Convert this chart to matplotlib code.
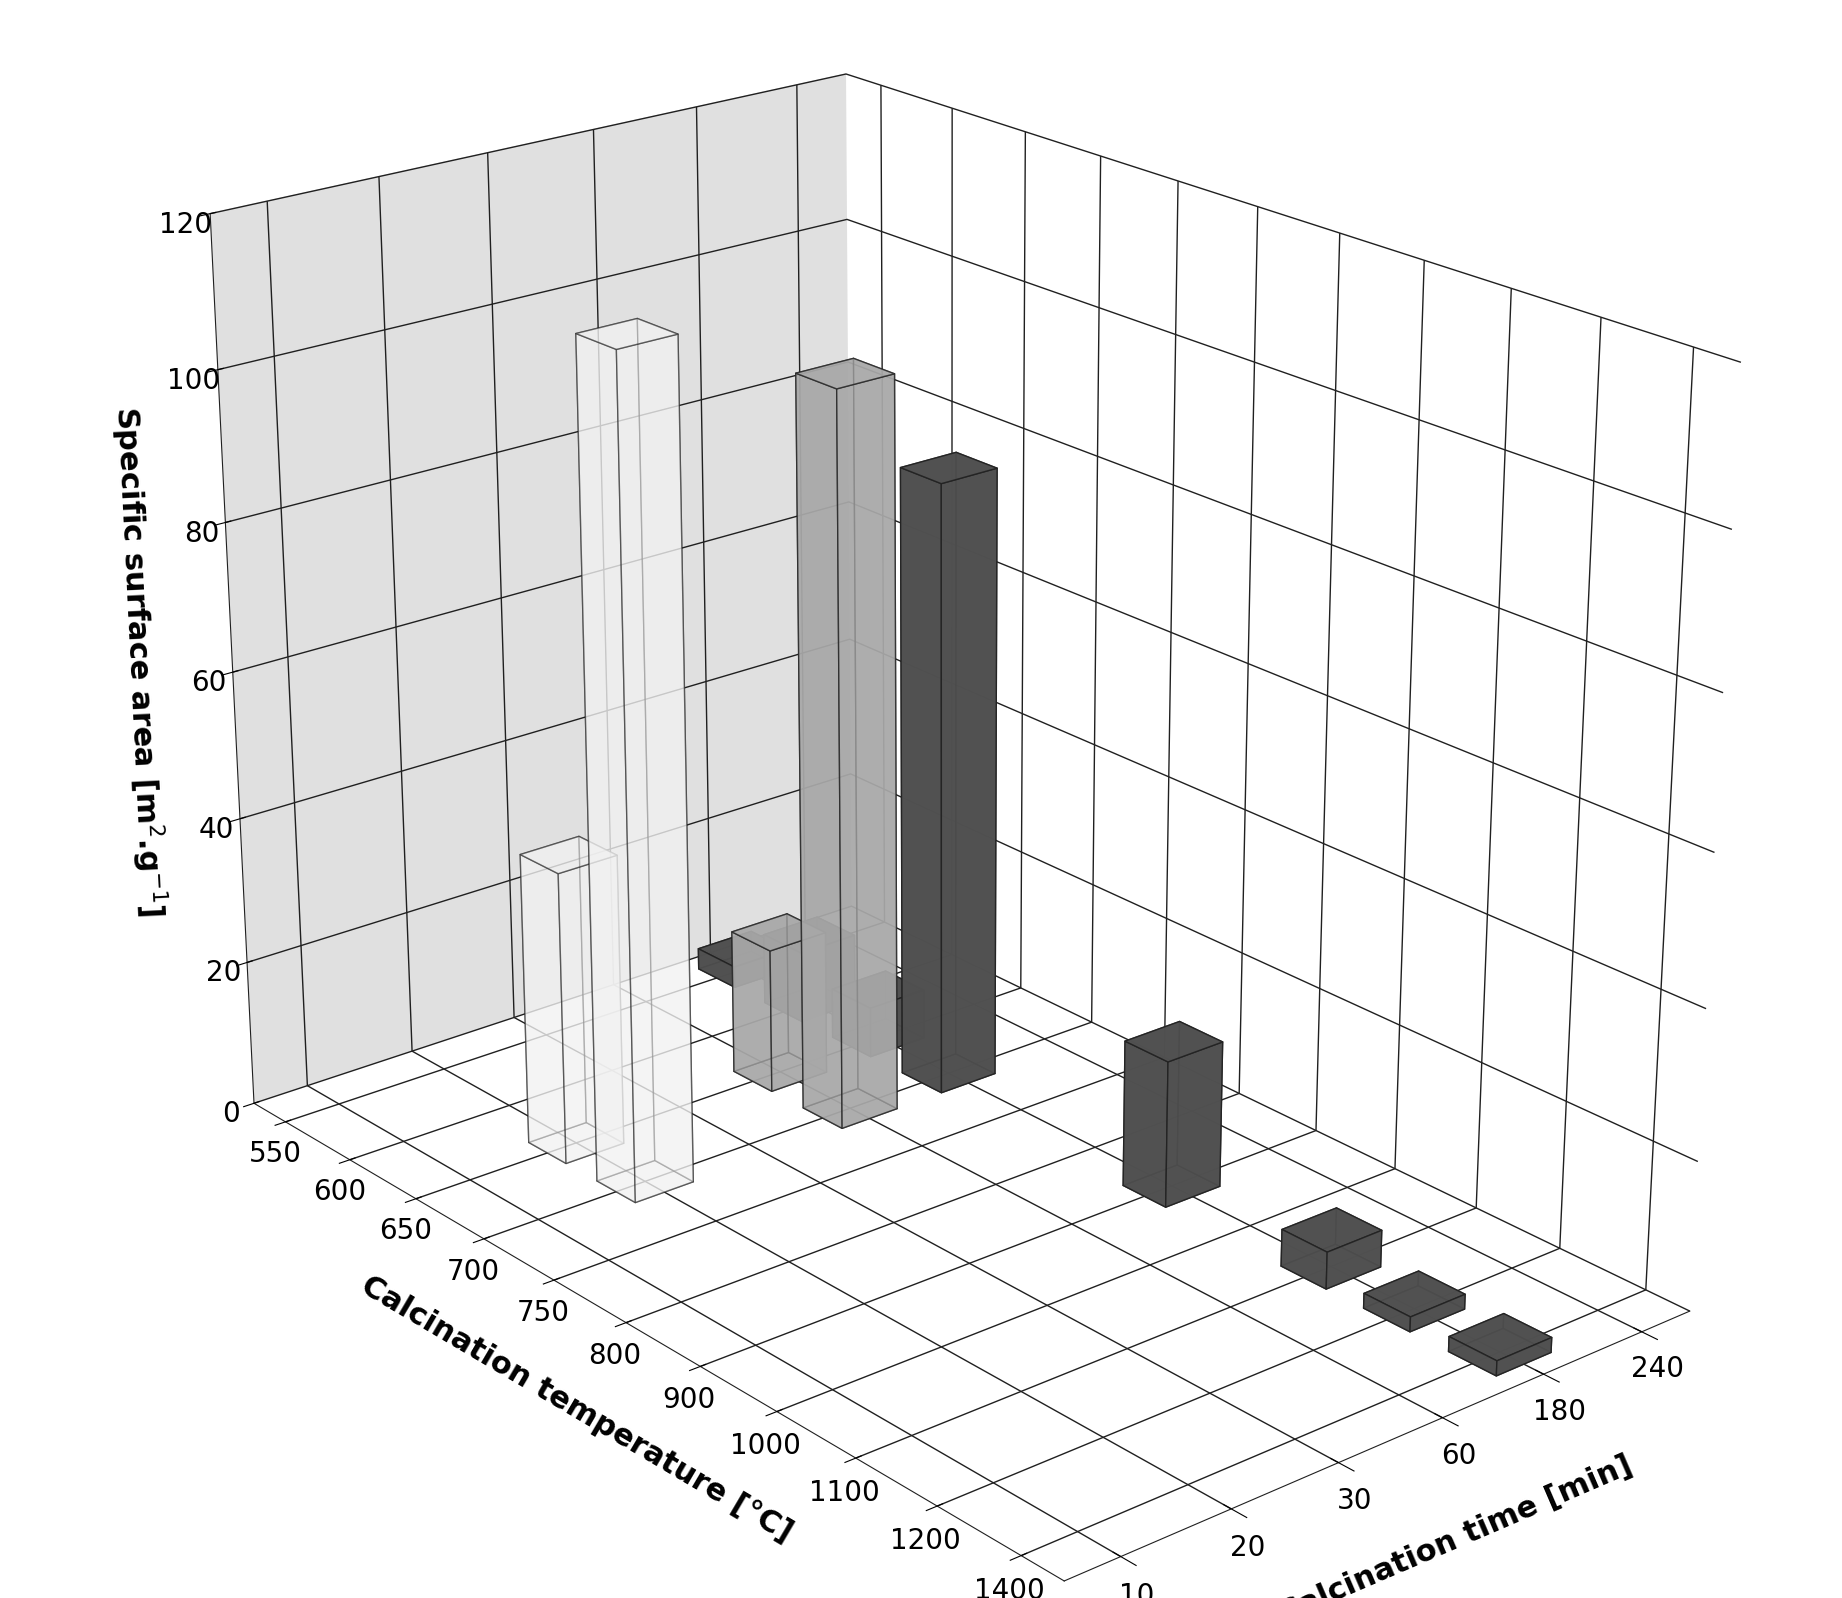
import matplotlib
matplotlib.use('Agg')
import matplotlib.pyplot as plt
import numpy as np

temps = ['550', '600', '650', '700', '750', '800', '900', '1000', '1100', '1200', '1400']
times = ['10', '20', '30', '60', '180', '240']

# (temperature label, time label, surface area, colour)
bar_temp = ['550', '600', '650', '700', '900', '1100', '1200', '1400',
            '650', '700', '650', '700']
bar_time = ['180', '180', '180', '180', '180', '180', '180', '180',
            '60', '60', '20', '20']
bar_val = [3, 10, 7, 84, 20, 5, 2, 2, 20, 100, 40, 112]
bar_col = ['#505050'] * 8 + ['#a8a8a8', '#a8a8a8', '#f2f2f2', '#f2f2f2']
bar_alpha = [0.9] * 8 + [0.75, 0.75, 0.55, 0.55]

fig = plt.figure(figsize=(18.42, 15.98), dpi=100)
ax = fig.add_axes([-0.04, -0.05, 1.08, 1.12], projection='3d')
ax.set_proj_type('persp', focal_length=0.6)

w = 0.55
order = np.argsort([-times.index(t) for t in bar_time])
for i in order:
    xi = temps.index(bar_temp[i])
    yi = times.index(bar_time[i])
    ax.bar3d(xi - w / 2 + 0.5, yi - w / 2 + 0.5, 0, w, w, bar_val[i],
             color=bar_col[i], alpha=bar_alpha[i], edgecolor='#222222',
             linewidth=1, shade=False)

ax.set_xlim(0, len(temps))
ax.set_ylim(0, len(times))
ax.set_zlim(0, 120)
ax.set_xticks(np.arange(len(temps)) + 0.5)
ax.set_xticklabels(temps, fontsize=20)
ax.set_yticks(np.arange(len(times)) + 0.5)
ax.set_yticklabels(times, fontsize=20)
ax.set_zticks(np.arange(0, 121, 20))
ax.set_zticklabels([str(v) for v in range(0, 121, 20)], fontsize=20)

ax.xaxis.set_pane_color((0.88, 0.88, 0.88, 1))
ax.yaxis.set_pane_color((1, 1, 1, 1))
ax.zaxis.set_pane_color((1, 1, 1, 1))
for a in (ax.xaxis, ax.yaxis, ax.zaxis):
    a._axinfo['grid']['color'] = '#202020'
    a._axinfo['grid']['linewidth'] = 1.0
    a.line.set_color('#202020')

ax.zaxis.set_ticks_position('lower')
ax.zaxis.set_label_position('lower')

ax.set_xlabel('Calcination temperature [°C]', fontsize=22, fontweight='bold', labelpad=30)
ax.set_ylabel('Calcination time [min]', fontsize=22, fontweight='bold', labelpad=25)
ax.set_zlabel('Specific surface area [m$^2$.g$^{-1}$]', fontsize=22, fontweight='bold', labelpad=25)
ax.view_init(elev=22, azim=-40)
ax.set_box_aspect((1.6, 1.0, 1.2))

fig.savefig('out.png', dpi=100)
